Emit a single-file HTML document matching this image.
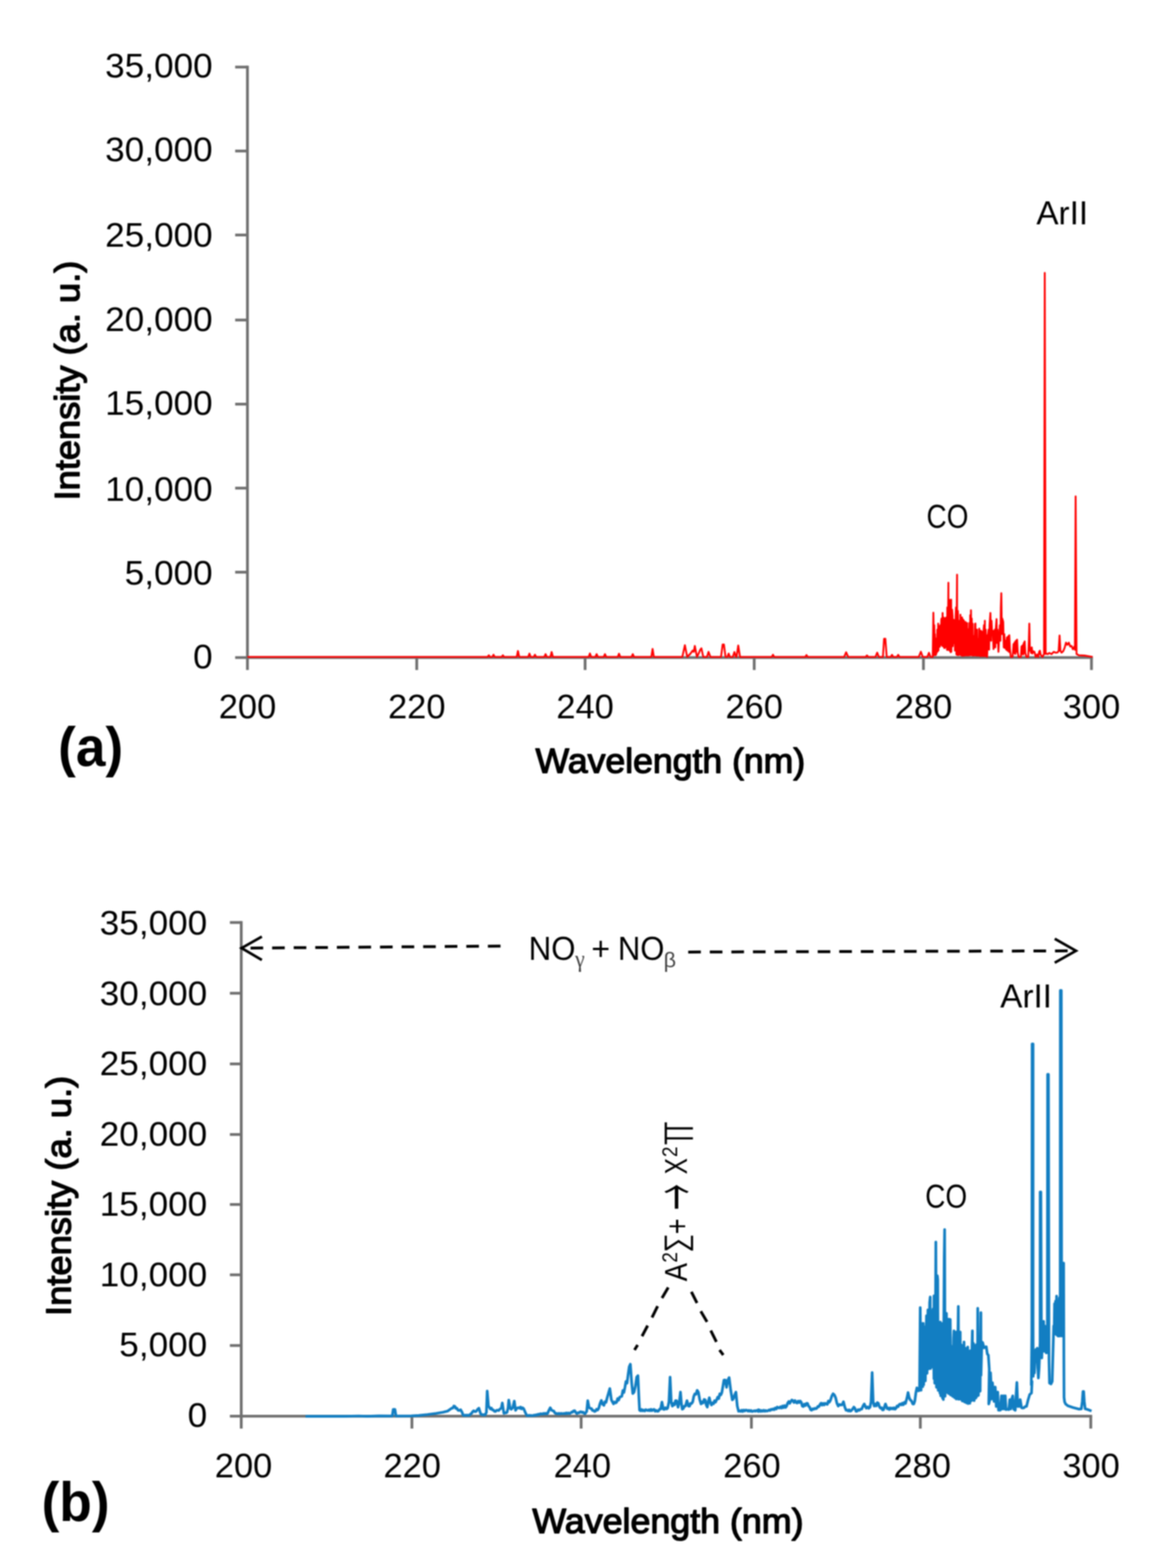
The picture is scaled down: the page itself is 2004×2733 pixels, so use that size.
<!DOCTYPE html>
<html lang="en">
<head>
<meta charset="utf-8">
<title>Emission spectra 200-300 nm</title>
<style>
html,body{margin:0;padding:0;background:#fff;}
body{width:2004px;height:2733px;overflow:hidden;}
svg{display:block;filter:blur(0.8px);}
text{font-family:'Liberation Sans',Arial,Helvetica,sans-serif;}
</style>
</head>
<body>
<svg width="2004" height="2733" viewBox="0 0 2004 2733">
<rect x="0" y="0" width="2004" height="2733" fill="#ffffff"/>
<g id="axes-a">
<line x1="431.2" y1="114.5" x2="431.2" y2="1167.8" stroke="#6f6f6f" stroke-width="4.8" />
<line x1="409.8" y1="1146.2" x2="1904.4" y2="1146.2" stroke="#6f6f6f" stroke-width="4.8" />
<line x1="409.8" y1="116.9" x2="431.2" y2="116.9" stroke="#6f6f6f" stroke-width="4.8" />
<line x1="409.8" y1="263.2" x2="431.2" y2="263.2" stroke="#6f6f6f" stroke-width="4.8" />
<line x1="409.8" y1="409.6" x2="431.2" y2="409.6" stroke="#6f6f6f" stroke-width="4.8" />
<line x1="409.8" y1="557.8" x2="431.2" y2="557.8" stroke="#6f6f6f" stroke-width="4.8" />
<line x1="409.8" y1="704.4" x2="431.2" y2="704.4" stroke="#6f6f6f" stroke-width="4.8" />
<line x1="409.8" y1="850.8" x2="431.2" y2="850.8" stroke="#6f6f6f" stroke-width="4.8" />
<line x1="409.8" y1="997.3" x2="431.2" y2="997.3" stroke="#6f6f6f" stroke-width="4.8" />
<line x1="726.2" y1="1146.2" x2="726.2" y2="1167.8" stroke="#6f6f6f" stroke-width="4.8" />
<line x1="1019.6" y1="1146.2" x2="1019.6" y2="1167.8" stroke="#6f6f6f" stroke-width="4.8" />
<line x1="1314.3" y1="1146.2" x2="1314.3" y2="1167.8" stroke="#6f6f6f" stroke-width="4.8" />
<line x1="1609.2" y1="1146.2" x2="1609.2" y2="1167.8" stroke="#6f6f6f" stroke-width="4.8" />
<line x1="1902.0" y1="1146.2" x2="1902.0" y2="1167.8" stroke="#6f6f6f" stroke-width="4.8" />
</g>
<polyline points="431.2,1145.0 640.0,1145.0 849.0,1145.0 849.6,1145.0 851.8,1142.1 854.0,1145.0 857.8,1145.0 860.0,1141.2 862.2,1145.0 874.1,1145.0 876.3,1142.1 878.5,1145.0 900.4,1145.0 902.6,1134.7 904.8,1145.0 920.4,1145.0 922.6,1139.2 924.8,1145.0 930.0,1145.0 932.2,1141.2 934.4,1145.0 948.5,1145.0 950.7,1140.2 952.9,1145.0 959.1,1145.0 961.3,1136.5 963.5,1145.0 1025.8,1145.0 1028.0,1139.0 1030.2,1145.0 1037.5,1145.0 1039.7,1140.2 1041.9,1145.0 1052.0,1145.0 1054.2,1140.2 1056.4,1145.0 1076.5,1145.0 1078.7,1139.4 1080.9,1145.0 1100.5,1145.0 1102.7,1140.2 1104.9,1145.0 1135.0,1145.0 1137.2,1131.0 1139.4,1145.0 1189.0,1145.0 1193.5,1124.6 1197.5,1145.0 1203.0,1139.5 1207.0,1134.0 1209.0,1136.0 1210.8,1125.9 1214.5,1145.0 1218.0,1138.0 1220.0,1133.0 1222.3,1130.0 1225.5,1145.0 1232.0,1145.0 1234.7,1136.2 1238.0,1145.0 1256.5,1145.0 1259.3,1123.3 1261.5,1123.3 1264.3,1145.0 1267.5,1145.0 1269.8,1139.2 1272.0,1145.0 1277.0,1145.0 1279.8,1136.4 1282.5,1145.0 1283.5,1145.0 1286.5,1125.1 1289.5,1145.0 1344.8,1145.0 1347.0,1141.2 1349.2,1145.0 1403.2,1145.0 1405.4,1141.8 1407.6,1145.0 1471.0,1145.0 1474.5,1137.0 1478.0,1145.0 1508.6,1145.0 1510.8,1142.4 1513.0,1145.0 1525.5,1145.0 1528.6,1137.6 1531.5,1145.0 1538.6,1145.0 1540.6,1113.4 1542.8,1113.4 1545.2,1145.0 1552.2,1145.0 1554.4,1141.4 1556.6,1145.0 1563.0,1145.0 1565.2,1141.4 1567.4,1145.0 1601.0,1145.0 1604.7,1136.0 1608.0,1145.0 1616.0,1145.0 1618.8,1137.8 1621.5,1145.0 1624.0,1145.0 1625.4,1145.0 1626.5,1067.8 1627.8,1141.9 1628.1,1089.7 1629.0,1141.7 1629.1,1105.2 1630.3,1142.0 1630.6,1112.9 1631.5,1140.3 1632.0,1116.8 1632.8,1136.7 1633.3,1097.4 1634.0,1135.3 1634.9,1086.8 1635.3,1133.7 1636.5,1093.9 1636.8,1091.6 1637.8,1127.3 1638.7,1089.7 1639.0,1123.9 1640.3,1080.4 1640.7,1078.1 1641.6,1125.0 1642.6,1068.4 1642.8,1126.5 1644.1,1088.4 1644.2,1076.1 1645.3,1129.5 1645.5,1080.0 1646.6,1129.4 1647.5,1077.1 1647.8,1127.7 1649.1,1079.5 1649.4,1076.1 1650.3,1132.6 1650.8,1058.7 1651.6,1132.9 1652.7,1015.7 1652.8,1132.6 1654.1,1081.1 1654.2,1045.1 1655.2,1058.7 1655.3,1134.7 1656.2,1047.1 1656.6,1136.8 1657.5,1045.1 1657.8,1136.0 1659.1,1092.9 1659.1,1062.6 1660.0,1074.2 1660.3,1126.3 1661.6,1088.9 1662.0,1080.0 1662.8,1121.3 1663.9,1081.9 1664.1,1133.9 1665.3,1075.2 1665.9,1058.7 1666.6,1140.6 1667.8,1001.5 1667.8,1141.6 1669.1,1064.6 1669.3,1068.4 1670.3,1142.0 1670.7,1097.4 1671.6,1140.8 1672.1,1081.9 1672.8,1140.4 1673.6,1071.3 1674.1,1142.0 1675.3,1100.8 1676.5,1076.1 1676.6,1143.0 1677.8,1079.3 1679.1,1142.9 1679.4,1081.0 1680.3,1142.4 1681.6,1102.1 1682.3,1083.9 1682.8,1142.4 1684.1,1101.1 1685.2,1085.8 1685.3,1142.5 1686.6,1096.5 1687.8,1142.4 1689.1,1088.3 1689.1,1085.8 1690.4,1142.2 1690.7,1072.2 1691.6,1141.6 1692.0,1063.5 1692.9,1142.0 1693.4,1078.1 1694.1,1142.0 1694.9,1086.8 1695.4,1142.7 1696.6,1108.3 1697.9,1142.4 1699.1,1087.7 1699.8,1086.8 1700.4,1142.4 1701.6,1103.3 1702.7,1097.4 1702.9,1142.9 1704.1,1113.4 1705.4,1142.7 1706.5,1095.5 1706.6,1143.0 1707.9,1112.3 1709.1,1143.8 1709.4,1099.4 1710.4,1142.7 1711.6,1101.0 1712.3,1101.3 1712.9,1143.8 1714.1,1097.0 1714.7,1089.7 1715.4,1143.2 1716.2,1081.9 1716.6,1143.6 1717.8,1097.4 1717.9,1143.5 1719.1,1107.1 1720.1,1145.0 1721.6,1107.1 1722.8,1097.4 1723.6,1132.3 1724.4,1089.7 1725.9,1068.4 1727.1,1116.8 1727.8,1081.9 1729.0,1105.2 1730.2,1099.4 1731.3,1131.3 1732.5,1101.3 1733.7,1097.4 1734.4,1128.4 1735.2,1097.4 1736.6,1079.0 1737.5,1120.7 1738.3,1097.4 1739.9,1136.2 1741.4,1105.2 1742.4,1089.7 1743.3,1116.8 1744.1,1058.7 1744.9,1033.9 1745.9,1105.2 1746.6,1078.1 1748.2,1083.9 1749.2,1128.4 1750.1,1105.2 1751.1,1129.4 1752.3,1116.8 1753.4,1132.3 1754.6,1111.0 1755.7,1134.2 1756.9,1109.0 1758.1,1136.2 1758.8,1107.1 1760.0,1132.3 1761.5,1145.0 1764.6,1145.0 1766.2,1122.6 1767.4,1138.1 1768.1,1119.7 1769.3,1140.0 1770.1,1116.8 1771.2,1136.2 1772.4,1114.9 1773.6,1138.1 1775.1,1145.0 1779.0,1145.0 1780.1,1126.5 1781.3,1140.0 1782.1,1124.5 1783.2,1141.0 1784.0,1120.7 1784.8,1138.1 1785.6,1117.8 1786.7,1138.1 1788.7,1145.0 1791.8,1145.0 1792.9,1116.8 1793.7,1086.8 1794.7,1134.2 1795.6,1129.4 1796.8,1138.1 1798.0,1128.4 1799.1,1139.1 1800.7,1135.2 1802.6,1136.2 1804.9,1145.0 1807.3,1140.8 1809.2,1145.0 1810.8,1136.2 1812.1,1134.2 1813.5,1141.2 1816.6,1145.0 1818.9,1140.8 1819.3,1140.0 1820.6,475.5 1822.2,1140.0 1822.8,1138.9 1825.7,1140.1 1828.6,1138.1 1832.4,1140.1 1836.3,1136.2 1840.2,1137.7 1843.1,1137.0 1844.8,1134.6 1846.4,1107.5 1847.9,1134.6 1849.9,1137.5 1852.8,1135.0 1855.3,1128.8 1857.6,1120.1 1860.0,1124.0 1862.5,1120.1 1865.0,1126.9 1867.3,1125.9 1869.6,1131.7 1872.2,1126.9 1873.3,1132.7 1873.2,1120.0 1874.4,865.2 1876.0,1140.0 1880.0,1142.2 1890.0,1142.6 1904.0,1145.0" fill="none" stroke="#ff0000" stroke-width="3.2" stroke-linejoin="round" />
<g id="axes-b">
<line x1="420.4" y1="1605.5" x2="420.4" y2="2490.0" stroke="#6f6f6f" stroke-width="4.8" />
<line x1="400.6" y1="2468.4" x2="1903.2" y2="2468.4" stroke="#6f6f6f" stroke-width="4.8" />
<line x1="400.6" y1="1607.9" x2="420.4" y2="1607.9" stroke="#6f6f6f" stroke-width="4.8" />
<line x1="400.6" y1="1731.2" x2="420.4" y2="1731.2" stroke="#6f6f6f" stroke-width="4.8" />
<line x1="400.6" y1="1854.4" x2="420.4" y2="1854.4" stroke="#6f6f6f" stroke-width="4.8" />
<line x1="400.6" y1="1977.4" x2="420.4" y2="1977.4" stroke="#6f6f6f" stroke-width="4.8" />
<line x1="400.6" y1="2099.4" x2="420.4" y2="2099.4" stroke="#6f6f6f" stroke-width="4.8" />
<line x1="400.6" y1="2222.0" x2="420.4" y2="2222.0" stroke="#6f6f6f" stroke-width="4.8" />
<line x1="400.6" y1="2345.2" x2="420.4" y2="2345.2" stroke="#6f6f6f" stroke-width="4.8" />
<line x1="717.8" y1="2468.4" x2="717.8" y2="2490.0" stroke="#6f6f6f" stroke-width="4.8" />
<line x1="1012.7" y1="2468.4" x2="1012.7" y2="2490.0" stroke="#6f6f6f" stroke-width="4.8" />
<line x1="1309.4" y1="2468.4" x2="1309.4" y2="2490.0" stroke="#6f6f6f" stroke-width="4.8" />
<line x1="1603.8" y1="2468.4" x2="1603.8" y2="2490.0" stroke="#6f6f6f" stroke-width="4.8" />
<line x1="1900.8" y1="2468.4" x2="1900.8" y2="2490.0" stroke="#6f6f6f" stroke-width="4.8" />
</g>
<polyline points="532.4,2468.6 600.0,2468.6 625.0,2468.0 640.0,2468.6 660.0,2467.8 683.6,2468.1 685.2,2456.5 688.2,2456.5 690.0,2468.1 717.0,2467.8 730.0,2467.1 745.0,2465.5 760.0,2463.5 772.0,2461.5 780.0,2459.5 787.3,2454.4 789.1,2454.2 790.9,2450.7 792.7,2451.2 794.5,2454.9 796.3,2454.7 798.2,2458.1 800.4,2458.3 802.7,2457.2 805.0,2461.1 807.2,2466.8 809.1,2467.2 810.9,2466.5 812.7,2467.1 814.5,2466.6 816.3,2466.9 818.1,2466.8 820.0,2464.5 821.8,2463.5 823.6,2460.5 825.4,2459.0 827.7,2460.5 829.9,2459.9 832.2,2456.5 834.5,2454.4 836.3,2460.4 838.1,2465.3 839.9,2465.4 841.7,2466.3 843.6,2465.6 845.4,2466.2 847.6,2461.7 849.0,2424.5 851.2,2450.8 852.6,2452.6 854.5,2455.8 856.3,2454.3 858.1,2457.5 859.9,2457.7 861.7,2459.9 863.5,2460.1 865.4,2458.2 867.2,2458.1 869.0,2458.6 870.8,2456.3 873.5,2454.4 875.3,2445.4 878.1,2463.5 879.9,2462.4 881.7,2462.7 883.5,2461.7 885.3,2454.4 886.6,2440.3 889.0,2454.4 890.8,2456.3 893.5,2453.5 896.2,2442.1 898.4,2458.1 900.9,2454.4 903.5,2453.5 905.3,2454.6 907.1,2452.5 908.9,2455.7 910.7,2453.8 912.6,2455.3 915.3,2461.7 918.0,2467.2 919.8,2467.4 921.6,2466.9 923.5,2467.3 925.3,2467.0 927.1,2467.5 928.9,2467.2 930.7,2466.6 932.5,2466.9 934.4,2465.9 936.2,2466.3 938.0,2464.9 939.8,2465.6 941.6,2464.2 943.4,2464.4 945.3,2464.8 947.1,2463.5 948.9,2464.3 950.7,2463.3 952.5,2464.4 954.3,2463.5 956.6,2458.0 958.9,2453.7 961.1,2457.9 963.4,2459.0 965.2,2459.6 967.0,2462.8 968.9,2463.9 970.7,2463.5 972.5,2464.4 974.3,2463.4 976.1,2464.6 977.9,2463.4 979.8,2463.9 981.6,2464.0 983.4,2463.4 985.2,2464.2 987.0,2462.6 988.8,2463.9 990.7,2462.7 992.5,2463.7 994.3,2463.0 996.1,2461.1 997.9,2461.4 999.7,2459.0 1001.5,2458.8 1003.4,2462.1 1005.2,2463.9 1007.0,2462.4 1008.8,2462.7 1010.6,2461.0 1012.4,2460.6 1014.3,2462.0 1016.1,2461.3 1017.9,2463.5 1019.7,2463.9 1022.4,2459.9 1024.2,2441.4 1026.6,2453.5 1028.8,2454.8 1030.6,2455.0 1032.4,2458.3 1034.2,2458.4 1036.1,2460.2 1037.9,2459.3 1039.7,2456.2 1041.5,2457.5 1043.3,2454.8 1045.6,2446.5 1047.9,2441.0 1050.1,2447.4 1052.4,2449.4 1054.2,2443.1 1056.0,2444.3 1057.8,2437.2 1062.7,2420.2 1065.4,2439.9 1067.2,2443.5 1069.1,2447.0 1070.9,2443.6 1072.7,2445.3 1074.5,2444.1 1076.3,2437.7 1078.1,2440.3 1080.0,2435.1 1081.8,2434.4 1083.6,2433.7 1085.4,2423.6 1087.2,2427.1 1089.0,2418.1 1090.8,2407.8 1092.7,2410.7 1094.5,2396.3 1096.5,2382.2 1098.5,2377.8 1100.8,2410.8 1102.7,2429.0 1104.9,2426.4 1107.2,2416.3 1109.5,2400.3 1111.7,2397.7 1113.2,2432.6 1114.5,2458.0 1116.3,2459.1 1118.1,2456.7 1119.9,2459.1 1121.7,2457.6 1123.5,2459.3 1125.4,2457.0 1127.2,2458.0 1129.0,2458.6 1130.8,2457.1 1132.6,2458.9 1134.4,2456.4 1136.2,2458.7 1138.1,2457.1 1139.9,2456.6 1141.7,2459.8 1143.5,2458.3 1145.3,2459.8 1147.3,2459.7 1149.2,2456.3 1151.1,2456.2 1153.5,2443.9 1155.9,2456.2 1157.8,2456.6 1159.7,2453.6 1161.6,2455.8 1163.5,2454.4 1165.7,2443.5 1167.7,2400.3 1169.7,2443.5 1171.7,2450.8 1173.5,2446.3 1175.3,2448.7 1177.1,2441.4 1178.9,2441.3 1181.6,2452.6 1183.8,2443.5 1185.8,2426.4 1187.5,2447.1 1188.9,2456.2 1190.7,2455.1 1192.5,2450.8 1194.4,2450.8 1197.1,2441.3 1199.8,2450.8 1201.6,2450.8 1203.4,2446.0 1205.3,2446.3 1207.1,2443.5 1208.9,2434.1 1210.7,2429.7 1212.8,2430.2 1214.9,2423.3 1217.1,2426.8 1219.3,2439.4 1221.6,2447.1 1223.4,2443.4 1225.2,2445.3 1227.0,2439.2 1228.9,2439.9 1230.7,2448.8 1232.5,2452.6 1234.3,2442.9 1236.1,2436.2 1237.9,2444.3 1239.8,2448.9 1241.6,2445.3 1243.4,2446.7 1245.2,2441.3 1247.0,2443.9 1248.8,2439.9 1250.7,2435.1 1252.5,2437.8 1254.3,2429.4 1256.1,2431.3 1257.9,2427.2 1260.1,2414.4 1261.5,2405.7 1263.8,2405.4 1266.1,2418.1 1268.4,2405.4 1270.6,2401.2 1273.4,2423.5 1276.1,2439.9 1277.9,2438.3 1279.7,2432.6 1282.4,2426.4 1284.8,2450.8 1287.0,2459.8 1288.8,2458.9 1290.6,2460.1 1292.4,2457.9 1294.2,2460.2 1296.1,2457.8 1297.9,2459.3 1299.7,2457.7 1301.5,2458.0 1303.3,2459.6 1305.1,2458.1 1306.9,2459.8 1308.8,2458.5 1310.6,2460.2 1312.4,2459.8 1314.2,2458.8 1316.0,2459.8 1317.8,2458.5 1319.7,2459.5 1321.5,2457.1 1323.3,2458.0 1320.0,2458.9 1321.8,2460.2 1323.6,2457.7 1325.4,2460.1 1327.3,2458.5 1329.1,2459.9 1330.9,2458.1 1332.7,2459.8 1334.5,2458.4 1336.3,2459.5 1338.2,2458.9 1340.0,2457.5 1341.8,2458.5 1343.6,2456.4 1345.4,2457.2 1347.2,2455.6 1349.1,2457.0 1350.9,2454.1 1352.7,2455.8 1354.5,2452.5 1356.3,2453.5 1358.1,2454.2 1360.0,2452.1 1361.8,2454.2 1363.6,2450.7 1365.4,2453.4 1367.2,2449.9 1369.0,2453.2 1370.8,2450.8 1372.7,2445.3 1374.5,2442.8 1376.3,2446.0 1378.1,2442.6 1379.9,2440.2 1381.7,2441.3 1383.6,2444.5 1385.4,2441.1 1387.2,2444.4 1389.0,2445.4 1390.8,2442.1 1392.6,2444.6 1394.5,2442.0 1396.3,2444.2 1398.1,2450.8 1399.9,2451.5 1401.7,2447.5 1403.5,2449.9 1405.4,2446.0 1407.2,2446.2 1409.0,2450.8 1410.8,2452.5 1412.6,2457.1 1414.4,2458.0 1416.2,2455.5 1418.1,2456.4 1419.9,2454.7 1421.7,2455.4 1423.5,2454.4 1425.3,2451.3 1427.1,2451.8 1429.0,2448.0 1430.8,2445.7 1432.6,2449.1 1434.4,2446.1 1436.2,2448.7 1438.0,2445.9 1439.9,2447.1 1441.7,2447.9 1443.5,2441.9 1445.3,2443.9 1447.1,2440.8 1449.8,2432.6 1451.7,2429.3 1453.9,2431.2 1456.2,2436.2 1458.5,2446.1 1460.7,2450.8 1463.0,2448.0 1465.3,2448.9 1467.5,2448.4 1469.8,2443.1 1472.2,2452.6 1474.4,2458.0 1476.2,2457.6 1478.0,2459.3 1479.8,2457.3 1481.6,2459.7 1483.4,2458.9 1486.2,2455.3 1488.0,2452.6 1489.8,2454.7 1491.6,2459.8 1493.6,2459.7 1495.6,2457.0 1497.6,2458.2 1499.6,2456.0 1501.6,2456.2 1503.8,2450.8 1506.1,2447.1 1508.0,2451.5 1509.8,2454.4 1511.9,2452.2 1514.0,2454.7 1516.1,2452.6 1517.9,2443.5 1519.8,2392.3 1521.6,2443.5 1523.4,2450.8 1525.2,2447.3 1527.0,2450.5 1528.8,2444.7 1530.7,2446.0 1532.5,2451.8 1534.3,2454.4 1536.1,2453.6 1537.9,2457.5 1539.7,2457.1 1543.0,2447.1 1546.1,2455.3 1547.8,2454.3 1549.5,2456.8 1551.2,2454.0 1552.9,2455.7 1554.7,2454.2 1556.4,2455.8 1558.1,2453.8 1559.8,2456.2 1561.5,2454.4 1563.3,2450.6 1565.2,2451.8 1567.0,2448.0 1568.8,2447.1 1570.6,2448.7 1572.4,2445.7 1574.2,2448.4 1576.1,2444.1 1577.9,2446.2 1580.6,2436.2 1582.4,2427.2 1584.2,2435.5 1586.0,2439.9 1588.3,2441.7 1590.6,2447.1 1592.4,2447.1 1594.2,2441.7 1596.0,2427.6 1597.8,2419.0 1600.1,2424.2 1602.4,2423.5 1603.6,2279.2 1605.1,2423.1 1606.6,2306.8 1608.1,2416.9 1609.0,2306.5 1609.6,2413.6 1611.0,2312.7 1612.5,2407.0 1614.0,2334.4 1614.5,2293.4 1615.5,2393.6 1617.0,2283.0 1618.5,2385.8 1620.0,2270.4 1621.0,2260.7 1621.5,2385.4 1623.0,2285.2 1624.5,2382.7 1626.0,2281.6 1627.5,2403.3 1627.6,2258.5 1628.9,2411.0 1630.4,2247.1 1630.8,2164.8 1631.9,2418.1 1633.4,2223.5 1634.1,2230.2 1634.9,2423.4 1636.4,2320.7 1637.9,2428.3 1638.5,2304.3 1639.4,2433.0 1640.9,2324.4 1642.4,2437.0 1642.8,2306.5 1643.9,2439.5 1645.4,2191.4 1646.1,2143.0 1646.9,2433.7 1648.3,2300.7 1649.3,2289.0 1649.8,2426.9 1651.3,2299.0 1652.8,2428.8 1654.3,2299.3 1655.8,2430.8 1655.9,2299.9 1657.3,2431.8 1658.8,2347.1 1660.3,2433.9 1661.8,2331.9 1662.4,2319.5 1663.3,2436.1 1664.8,2325.5 1666.3,2438.5 1666.8,2321.7 1667.7,2438.1 1669.2,2336.1 1670.0,2277.0 1670.7,2438.9 1672.2,2353.9 1673.3,2321.7 1673.7,2438.8 1675.2,2344.0 1676.7,2441.8 1678.2,2347.9 1679.7,2442.7 1679.9,2339.1 1681.2,2443.8 1682.7,2350.0 1684.2,2445.3 1685.7,2373.1 1686.4,2347.9 1687.1,2446.4 1688.6,2362.0 1690.1,2445.9 1690.8,2354.4 1691.6,2442.3 1693.1,2373.8 1694.5,2319.5 1694.6,2440.6 1696.1,2341.0 1697.3,2345.7 1697.6,2441.3 1699.1,2352.4 1700.6,2436.8 1701.6,2343.5 1702.1,2434.2 1703.6,2343.1 1703.8,2280.3 1705.0,2432.2 1706.5,2329.7 1708.0,2424.8 1709.3,2287.9 1709.5,2397.1 1711.0,2339.1 1712.5,2340.3 1714.7,2349.3 1716.9,2347.9 1718.7,2347.3 1720.5,2359.9 1722.3,2362.1 1723.9,2386.1 1723.0,2447.1 1725.2,2438.4 1726.1,2392.6 1728.2,2438.4 1729.5,2410.1 1732.2,2442.7 1734.3,2417.7 1736.1,2451.5 1738.7,2426.4 1740.0,2458.0 1743.1,2458.0 1745.2,2432.9 1747.0,2455.8 1748.7,2432.9 1750.5,2455.8 1751.8,2432.9 1753.1,2456.9 1755.5,2456.1 1757.9,2456.9 1759.6,2439.5 1761.4,2455.8 1763.1,2438.4 1764.8,2432.9 1766.6,2456.3 1769.2,2458.0 1770.7,2429.7 1772.0,2409.6 1773.6,2451.5 1775.7,2451.5 1777.9,2439.5 1780.1,2453.6 1782.3,2454.1 1784.5,2453.6 1786.6,2451.5 1788.8,2451.5 1791.4,2440.6 1794.3,2430.8 1797.5,2427.9 1798.4,2407.9 1797.1,2413.7 1798.1,2325.8 1798.6,1819.5 1800.2,1819.5 1800.2,2296.5 1800.5,2399.0 1801.5,2369.7 1802.5,2393.2 1804.0,2362.4 1805.2,2352.1 1806.6,2358.0 1807.5,2349.9 1808.4,2384.4 1809.5,2401.9 1810.7,2384.4 1811.6,2362.4 1812.5,2340.4 1812.6,2077.5 1813.8,2077.5 1814.8,2340.4 1815.4,2366.8 1816.3,2340.4 1816.9,2333.1 1817.8,2355.1 1818.6,2303.1 1819.5,2347.7 1820.5,2311.1 1821.3,2355.1 1822.1,2318.4 1823.0,2358.0 1824.2,2358.0 1825.1,2325.8 1825.6,1872.7 1827.0,1872.7 1828.0,2369.7 1828.9,2410.7 1831.5,2412.2 1833.6,2407.8 1835.0,2355.1 1836.2,2311.1 1837.1,2318.4 1837.7,2272.3 1838.6,2322.8 1839.4,2267.9 1840.3,2325.8 1841.2,2259.1 1842.1,2327.2 1842.9,2281.8 1843.7,2328.7 1844.6,2267.2 1845.4,2328.7 1846.2,2262.1 1846.8,2328.7 1847.5,2252.5 1847.8,1726.3 1849.4,1726.3 1850.0,2267.2 1850.4,2328.7 1851.4,2252.5 1852.5,2201.6 1853.5,2201.6 1853.9,2369.7 1854.2,2435.6 1855.2,2443.5 1857.0,2447.1 1860.8,2450.3 1869.6,2453.2 1879.9,2456.1 1884.3,2455.6 1886.0,2443.0 1887.2,2425.4 1888.4,2425.4 1889.5,2443.0 1891.0,2455.6 1896.0,2457.0 1902.1,2459.4" fill="none" stroke="#127ec2" stroke-width="4.7" stroke-linejoin="round" />
<g id="annotations">
<line x1="872.2" y1="1649.0" x2="419.5" y2="1652.6" stroke="#000" stroke-width="5.0" stroke-dasharray="22.0 15.6"/>
<polyline points="456.3,1632.6 421.0,1652.6 456.3,1673.3" fill="none" stroke="#000" stroke-width="4.6"/>
<line x1="1199.3" y1="1659.4" x2="1874.0" y2="1657.3" stroke="#000" stroke-width="5.0" stroke-dasharray="22.0 15.6"/>
<polyline points="1838.0,1636.3 1875.0,1657.3 1838.0,1678.0" fill="none" stroke="#000" stroke-width="4.6"/>
<line x1="1164.5" y1="2244.0" x2="1153.6" y2="2262.5" stroke="#000" stroke-width="5.0" />
<line x1="1146.0" y1="2276.7" x2="1136.2" y2="2296.3" stroke="#000" stroke-width="5.0" />
<line x1="1128.6" y1="2310.5" x2="1118.8" y2="2329.0" stroke="#000" stroke-width="5.0" />
<line x1="1111.1" y1="2344.2" x2="1105.7" y2="2353.0" stroke="#000" stroke-width="5.0" />
<line x1="1204.8" y1="2251.6" x2="1214.6" y2="2271.2" stroke="#000" stroke-width="5.0" />
<line x1="1221.2" y1="2285.4" x2="1232.1" y2="2303.9" stroke="#000" stroke-width="5.0" />
<line x1="1238.6" y1="2319.2" x2="1248.4" y2="2338.8" stroke="#000" stroke-width="5.0" />
<line x1="1253.9" y1="2353.0" x2="1260.4" y2="2361.7" stroke="#000" stroke-width="5.0" />
</g>
<g id="labels">
<text transform="translate(370.50 135.00) scale(1.0200 1.0000)" font-size="60" text-anchor="end" fill="#000">35,000</text>
<text transform="translate(370.50 281.00) scale(1.0200 1.0000)" font-size="60" text-anchor="end" fill="#000">30,000</text>
<text transform="translate(370.50 429.70) scale(1.0200 1.0000)" font-size="60" text-anchor="end" fill="#000">25,000</text>
<text transform="translate(370.50 576.80) scale(1.0200 1.0000)" font-size="60" text-anchor="end" fill="#000">20,000</text>
<text transform="translate(370.50 722.70) scale(1.0200 1.0000)" font-size="60" text-anchor="end" fill="#000">15,000</text>
<text transform="translate(370.50 872.70) scale(1.0200 1.0000)" font-size="60" text-anchor="end" fill="#000">10,000</text>
<text transform="translate(370.50 1019.20) scale(1.0200 1.0000)" font-size="60" text-anchor="end" fill="#000">5,000</text>
<text transform="translate(370.50 1164.90) scale(1.0200 1.0000)" font-size="60" text-anchor="end" fill="#000">0</text>
<text transform="translate(431.20 1252.20)" font-size="60" text-anchor="middle" fill="#000">200</text>
<text transform="translate(726.20 1252.20)" font-size="60" text-anchor="middle" fill="#000">220</text>
<text transform="translate(1019.60 1252.20)" font-size="60" text-anchor="middle" fill="#000">240</text>
<text transform="translate(1314.30 1252.20)" font-size="60" text-anchor="middle" fill="#000">260</text>
<text transform="translate(1609.20 1252.20)" font-size="60" text-anchor="middle" fill="#000">280</text>
<text transform="translate(1902.00 1252.20)" font-size="60" text-anchor="middle" fill="#000">300</text>
<text transform="translate(361.00 1629.00) scale(1.0200 1.0000)" font-size="60" text-anchor="end" fill="#000">35,000</text>
<text transform="translate(361.00 1751.56) scale(1.0200 1.0000)" font-size="60" text-anchor="end" fill="#000">30,000</text>
<text transform="translate(361.00 1874.12) scale(1.0200 1.0000)" font-size="60" text-anchor="end" fill="#000">25,000</text>
<text transform="translate(361.00 1996.68) scale(1.0200 1.0000)" font-size="60" text-anchor="end" fill="#000">20,000</text>
<text transform="translate(361.00 2119.24) scale(1.0200 1.0000)" font-size="60" text-anchor="end" fill="#000">15,000</text>
<text transform="translate(361.00 2241.80) scale(1.0200 1.0000)" font-size="60" text-anchor="end" fill="#000">10,000</text>
<text transform="translate(361.00 2364.36) scale(1.0200 1.0000)" font-size="60" text-anchor="end" fill="#000">5,000</text>
<text transform="translate(361.00 2486.92) scale(1.0200 1.0000)" font-size="60" text-anchor="end" fill="#000">0</text>
<text transform="translate(424.40 2575.20)" font-size="60" text-anchor="middle" fill="#000">200</text>
<text transform="translate(718.30 2575.20)" font-size="60" text-anchor="middle" fill="#000">220</text>
<text transform="translate(1014.70 2575.20)" font-size="60" text-anchor="middle" fill="#000">240</text>
<text transform="translate(1310.40 2575.20)" font-size="60" text-anchor="middle" fill="#000">260</text>
<text transform="translate(1607.00 2575.20)" font-size="60" text-anchor="middle" fill="#000">280</text>
<text transform="translate(1901.30 2575.20)" font-size="60" text-anchor="middle" fill="#000">300</text>
<text transform="translate(1168.20 1347.20)" font-size="62" stroke="#000" stroke-width="2.2" stroke-linejoin="round" text-anchor="middle" fill="#000">Wavelength (nm)</text>
<text transform="translate(1164.00 2671.80) scale(1.0060 1.0000)" font-size="62" stroke="#000" stroke-width="2.2" stroke-linejoin="round" text-anchor="middle" fill="#000">Wavelength (nm)</text>
<text transform="translate(137.80 663.40) rotate(-90) scale(1.0190 1.0000)" font-size="62" stroke="#000" stroke-width="2.2" stroke-linejoin="round" text-anchor="middle" fill="#000">Intensity (a. u.)</text>
<text transform="translate(123.30 2084.40) rotate(-90) scale(1.0210 1.0000)" font-size="62" stroke="#000" stroke-width="2.2" stroke-linejoin="round" text-anchor="middle" fill="#000">Intensity (a. u.)</text>
<text transform="translate(158.00 1335.20) scale(0.9660 1.0000)" font-size="96" font-weight="bold" text-anchor="middle" fill="#000">(a)</text>
<text transform="translate(131.70 2650.60) scale(0.9680 1.0000)" font-size="96" font-weight="bold" text-anchor="middle" fill="#000">(b)</text>
<text transform="translate(1651.10 920.00) scale(0.8400 1.0000)" font-size="58" text-anchor="middle" fill="#000">CO</text>
<text transform="translate(1851.00 391.00)" font-size="58" text-anchor="middle" fill="#000">ArII</text>
<text transform="translate(1648.80 2105.00) scale(0.8400 1.0000)" font-size="58" text-anchor="middle" fill="#000">CO</text>
<text transform="translate(1788.10 1756.00)" font-size="58" text-anchor="middle" fill="#000">ArII</text>
<text transform="translate(0 1673.0)" font-size="58" fill="#000"><tspan x="921.24" y="0.00" font-size="58.0" textLength="81.67" lengthAdjust="spacingAndGlyphs">NO</tspan><tspan x="1002.30" y="12.40" font-size="42.3" textLength="16.70" lengthAdjust="spacingAndGlyphs" style="font-family:'Liberation Serif','DejaVu Serif',serif" fill="#404040">γ</tspan><tspan x="1020" y="0" font-size="20" xml:space="preserve"> </tspan><tspan x="1030.51" y="0.00" font-size="58.0" textLength="32.63" lengthAdjust="spacingAndGlyphs">+</tspan><tspan x="1064" y="0" font-size="20" xml:space="preserve"> </tspan><tspan x="1076.77" y="0.00" font-size="58.0" textLength="81.12" lengthAdjust="spacingAndGlyphs">NO</tspan><tspan x="1156.58" y="13.40" font-size="37.4" textLength="21.52" lengthAdjust="spacingAndGlyphs" fill="#404040">β</tspan></text>
<text transform="translate(1197.2 2233.5) rotate(-90)" font-size="55.5" fill="#000"><tspan x="0.16" y="0.00" font-size="55.5" textLength="31.94" lengthAdjust="spacingAndGlyphs">A</tspan><tspan x="32.85" y="-17.40" font-size="37.0" textLength="18.33" lengthAdjust="spacingAndGlyphs">2</tspan><tspan x="50.29" y="10.50" font-size="69.0" textLength="33.03" lengthAdjust="spacingAndGlyphs" style="font-family:NanumGothic,'DejaVu Sans',sans-serif">∑</tspan><tspan x="82.13" y="1.50" font-size="55.5" textLength="27.69" lengthAdjust="spacingAndGlyphs">+</tspan><tspan x="110" y="0" font-size="20" xml:space="preserve"> </tspan><tspan x="125.01" y="16.00" font-size="89.4" textLength="44.76" lengthAdjust="spacingAndGlyphs" style="font-family:'Noto Sans CJK SC','DejaVu Sans',sans-serif">→</tspan><tspan x="170" y="0" font-size="20" xml:space="preserve"> </tspan><tspan x="186.74" y="0.00" font-size="55.5" textLength="28.19" lengthAdjust="spacingAndGlyphs">X</tspan><tspan x="216.85" y="-17.40" font-size="37.0" textLength="18.33" lengthAdjust="spacingAndGlyphs">2</tspan><tspan x="235.74" y="10.50" font-size="69.0" textLength="44.66" lengthAdjust="spacingAndGlyphs" style="font-family:NanumGothic,'DejaVu Sans',sans-serif">∏</tspan></text>
</g>
</svg>
</body>
</html>
